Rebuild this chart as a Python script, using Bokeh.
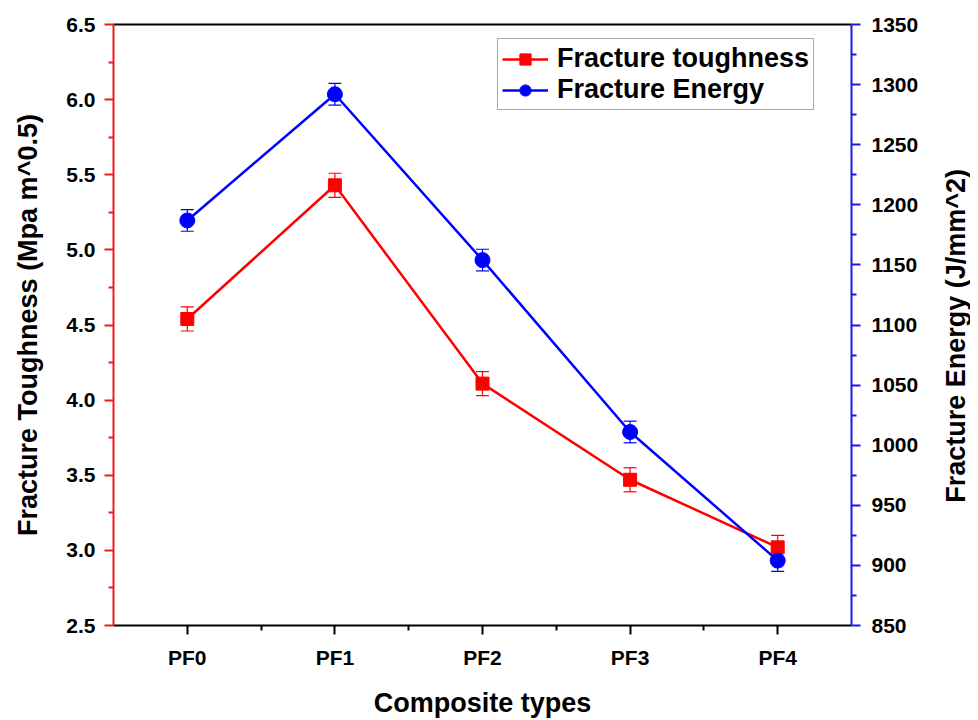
import math
from bokeh.plotting import figure
from bokeh.layouts import row
from bokeh.models import (Range1d, LinearAxis, FixedTicker, Whisker, TeeHead,
                          ColumnDataSource, Legend, LegendItem, PrintfTickFormatter)
from bokeh.core.properties import value
from bokeh.embed import file_html
from bokeh.resources import INLINE

categories = ["PF0", "PF1", "PF2", "PF3", "PF4"]
toughness = [4.54, 5.43, 4.11, 3.47, 3.02]
toughness_err = [0.08, 0.08, 0.08, 0.08, 0.08]
energy = [1187, 1292, 1154, 1011, 904]
energy_err = [9, 9, 9, 9, 9]

FONT = "Liberation Sans"
xs = list(range(len(categories)))

src_t = ColumnDataSource(dict(x=xs, y=toughness,
                              lo=[v - e for v, e in zip(toughness, toughness_err)],
                              hi=[v + e for v, e in zip(toughness, toughness_err)]))
src_e = ColumnDataSource(dict(x=xs, y=energy,
                              lo=[v - e for v, e in zip(energy, energy_err)],
                              hi=[v + e for v, e in zip(energy, energy_err)]))

H = 720
p = figure(width=940, height=H, output_backend="svg", toolbar_location=None,
           x_range=Range1d(-0.5, 4.5), y_range=Range1d(2.5, 6.5),
           min_border_left=113, min_border_right=89, min_border_top=24,
           min_border_bottom=92, x_axis_location=None, y_axis_location=None)
p.extra_y_ranges = {"energy": Range1d(850, 1350)}
p.grid.visible = False
p.outline_line_color = None
p.background_fill_color = "white"
p.border_fill_color = "white"

# bottom axis
xa = LinearAxis(ticker=FixedTicker(ticks=xs, minor_ticks=[0.5, 1.5, 2.5, 3.5]),
                axis_label="Composite types")
xa.major_label_overrides = {i: c for i, c in enumerate(categories)}
# left axis
ya = LinearAxis(ticker=FixedTicker(ticks=[2.5, 3.0, 3.5, 4.0, 4.5, 5.0, 5.5, 6.0, 6.5],
                                   minor_ticks=[2.75, 3.25, 3.75, 4.25, 4.75, 5.25, 5.75, 6.25]),
                axis_label="Fracture Toughness (Mpa m^0.5)",
                formatter=PrintfTickFormatter(format="%.1f"))
# right axis
ra = LinearAxis(y_range_name="energy",
                ticker=FixedTicker(ticks=list(range(850, 1351, 50)),
                                   minor_ticks=list(range(875, 1350, 50))),
                formatter=PrintfTickFormatter(format="%d"))
# top axis (line only)
ta = LinearAxis(ticker=FixedTicker(ticks=[]), major_label_text_font_size="0px")
ta.major_tick_line_color = None
ta.minor_tick_line_color = None
ta.axis_line_color = "black"
ta.axis_line_width = 2

for ax, col in ((xa, "black"), (ya, "#ee1c1c"), (ra, "#1a1ae6")):
    ax.axis_line_color = col
    ax.axis_line_width = 2
    ax.major_tick_line_color = col
    ax.minor_tick_line_color = col
    ax.major_tick_line_width = 2
    ax.minor_tick_line_width = 2
    ax.major_tick_out = 9
    ax.major_tick_in = 0
    ax.minor_tick_out = 5
    ax.minor_tick_in = 0
    ax.major_label_text_font = FONT
    ax.major_label_text_font_style = "bold"
    ax.major_label_text_font_size = "21px"
    ax.major_label_text_color = "black"
    ax.axis_label_text_font = FONT
    ax.axis_label_text_font_style = "bold"
    ax.axis_label_text_font_size = "27px"
    ax.axis_label_text_color = "black"

xa.major_label_standoff = 11
xa.axis_label_standoff = 16
ya.major_label_standoff = 9
ya.axis_label_standoff = 20
ra.major_label_standoff = 11

p.add_layout(xa, "below")
p.add_layout(ya, "left")
p.add_layout(ra, "right")
p.add_layout(ta, "above")

RED = "#ff0000"
BLUE = "#0000ff"

# error bars
p.add_layout(Whisker(source=src_t, base="x", lower="lo", upper="hi",
                     line_color=RED, line_width=1.2,
                     upper_head=TeeHead(size=13, line_color=RED, line_width=1.2),
                     lower_head=TeeHead(size=13, line_color=RED, line_width=1.2)))
p.add_layout(Whisker(source=src_e, base="x", lower="lo", upper="hi",
                     y_range_name="energy",
                     line_color=BLUE, line_width=1.2,
                     upper_head=TeeHead(size=13, line_color=BLUE, line_width=1.2),
                     lower_head=TeeHead(size=13, line_color=BLUE, line_width=1.2)))

lt = p.line("x", "y", source=src_t, line_color=RED, line_width=2.5)
mt = p.scatter("x", "y", source=src_t, marker="square", size=13,
               fill_color=RED, line_color=RED)
le = p.line("x", "y", source=src_e, y_range_name="energy", line_color=BLUE, line_width=2.5)
me = p.scatter("x", "y", source=src_e, y_range_name="energy", marker="circle", size=15,
               fill_color=BLUE, line_color=BLUE)

legend = Legend(items=[LegendItem(label="Fracture toughness", renderers=[lt, mt]),
                       LegendItem(label="Fracture Energy", renderers=[le, me])],
                location=(384, 515))
legend.label_text_font = FONT
legend.label_text_font_style = "bold"
legend.label_text_font_size = "27px"
legend.label_text_color = "black"
legend.border_line_color = "#555555"
legend.border_line_width = 1
legend.glyph_width = 46
legend.glyph_height = 28
legend.label_standoff = 9
legend.label_height = 28
legend.spacing = 0
legend.padding = 4
legend.margin = 0
p.add_layout(legend)

# right-hand axis title (reads bottom to top), drawn in a narrow side panel
side = figure(width=30, height=H, output_backend="svg", toolbar_location=None,
              x_range=Range1d(0, 1), y_range=Range1d(0, 1), min_border=0,
              x_axis_location=None, y_axis_location=None)
side.grid.visible = False
side.outline_line_color = None
side.text(x=[0.5], y=[1 - 373 / H], text=["Fracture Energy (J/mm^2)"],
          angle=math.pi / 2, text_align="center", text_baseline="middle",
          text_font=value(FONT), text_font_style="bold", text_font_size="27px",
          text_color="black")

layout = row(p, side, spacing=0)
open("out.html", "w").write(file_html(layout, INLINE))
